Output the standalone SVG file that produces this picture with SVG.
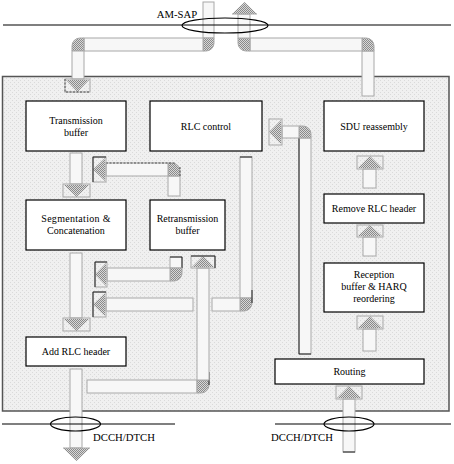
<svg xmlns="http://www.w3.org/2000/svg" width="454" height="464" viewBox="0 0 454 464">
<defs>
<pattern id="hatch" patternUnits="userSpaceOnUse" width="2" height="2">
<rect width="2" height="2" fill="#d8d8d8"/>
<rect width="1" height="1" fill="#8a8a8a"/>
<rect x="1" y="1" width="1" height="1" fill="#8a8a8a"/>
</pattern>
<pattern id="bg" patternUnits="userSpaceOnUse" width="4" height="4">
<rect width="4" height="4" fill="#f0f0f0"/>
<rect width="1" height="1" fill="#dadada"/>
<rect x="2" y="2" width="1" height="1" fill="#dadada"/>
</pattern>
</defs>
<style>
.frame{fill:url(#bg);stroke:#555;stroke-width:1.5}
.node rect{fill:#fff;stroke:#000;stroke-width:1.2}
.node text,.lbl{font-family:"Liberation Serif","Times New Roman",serif;font-size:10px;fill:#000;text-anchor:middle}
.lbl{font-size:10.7px}
.shaft{fill:#f7f7f7;stroke:#a8a8a8;stroke-width:1}
.hbox{fill:none;stroke:#a8a8a8;stroke-width:1}
.head{fill:url(#hatch);stroke:none}
.corner{fill:url(#hatch);stroke:#a8a8a8;stroke-width:1}
.dk{fill:none;stroke:#222;stroke-width:1}
.dash{fill:none;stroke:#333;stroke-width:0.8;stroke-dasharray:2 1.5}
.bus{fill:none;stroke:#000;stroke-width:1.2}
</style>
<rect class="frame" x="2.5" y="76.5" width="446.5" height="334.5"/>

<g id="connectors">
<!-- A: AM-SAP down to Transmission buffer -->
<rect class="shaft" x="203" y="2" width="11" height="36"/>
<path class="corner" d="M203 38 H214 V43 A8 8 0 0 1 206 51 H203 Z"/>
<rect class="shaft" x="84" y="38" width="119" height="13"/>
<path class="corner" d="M84 38 V51 H72 V46 A8 8 0 0 1 80 38 Z"/>
<rect class="shaft" x="72" y="51" width="12" height="28"/>
<rect class="hbox" x="65" y="79" width="25" height="13"/>
<polygon class="head" points="66,80 89,80 77.5,92"/>
<path class="dash" d="M65 79 V92 H90"/>

<!-- B: SDU reassembly up to AM-SAP -->
<rect class="shaft" x="362" y="51" width="12" height="45"/>
<path class="corner" d="M362 38 H366 A8 8 0 0 1 374 46 V51 H362 Z"/>
<rect class="shaft" x="250" y="38" width="112" height="13"/>
<path class="corner" d="M238 38 H250 V51 H246 A8 8 0 0 1 238 43 Z"/>
<rect class="shaft" x="238" y="14" width="12" height="24"/>
<polygon class="head" points="232,14 257,14 244.5,2"/>
<path class="hbox" d="M232 14 H257"/>

<!-- C: Transmission buffer to Segmentation -->
<rect class="shaft" x="70" y="153" width="12" height="31"/>
<rect class="hbox" x="63" y="184" width="27" height="13"/>
<polygon class="head" points="64,185 89,185 76.5,197"/>

<!-- D: Retransmission buffer up and left -->
<rect class="shaft" x="168" y="176" width="12" height="20"/>
<path class="corner" d="M168 163 H172 A8 8 0 0 1 180 171 V176 H168 Z"/>
<rect class="shaft" x="106" y="163" width="62" height="13"/>
<path class="dash" d="M106 163 H176 M180 167 V176"/>
<rect class="hbox" x="93" y="157" width="13" height="25"/>
<polygon class="head" points="105,158 105,181 93,169.5"/>
<path class="dk" d="M93 182 V157 H106"/>

<!-- E: Segmentation to Add RLC header -->
<rect class="shaft" x="70" y="253" width="12" height="65"/>
<rect class="hbox" x="63" y="318" width="27" height="13"/>
<polygon class="head" points="64,319 89,319 76.5,331"/>

<!-- F: Retransmission buffer down and left -->
<rect class="shaft" x="170" y="257" width="12" height="11"/>
<path class="dk" d="M170 257 H182 V268"/>
<path class="corner" d="M170 268 H182 V273 A8 8 0 0 1 174 281 H170 Z"/>
<rect class="shaft" x="107" y="268" width="63" height="13"/>
<rect class="hbox" x="95" y="262" width="12" height="25"/>
<polygon class="head" points="106,263 106,286 95,274.5"/>
<path class="dk" d="M95 287 V262 H107"/>

<!-- G: RLC control down and left -->
<rect class="shaft" x="240" y="157" width="12" height="141"/>
<path class="dk" d="M240 157 H252"/>
<path class="corner" d="M240 298 H252 V303 A8 8 0 0 1 244 311 H240 Z"/>
<path class="dk" d="M252 290 V303"/>
<rect class="shaft" x="212" y="298" width="28" height="13"/>
<rect class="shaft" x="106" y="298" width="87" height="13"/>
<rect class="hbox" x="93" y="292" width="13" height="25"/>
<polygon class="head" points="105,293 105,316 93,304.5"/>
<path class="dk" d="M93 317 V292 H106"/>

<!-- H: after Add RLC header right and up to Retransmission buffer -->
<rect class="shaft" x="87" y="380" width="110" height="13"/>
<path class="corner" d="M197 380 H209 V385 A8 8 0 0 1 201 393 H197 Z"/>
<path class="dk" d="M209 372 V385"/>
<rect class="shaft" x="197" y="268" width="12" height="112"/>
<rect class="hbox" x="191" y="256" width="24" height="12"/>
<polygon class="head" points="192,267 214,267 203,256"/>
<path class="dk" d="M191 256 H215 V268"/>

<!-- I: Routing up and left to RLC control -->
<rect class="shaft" x="299" y="138" width="12" height="216"/>
<path class="dk" d="M299 138 V354 H311"/>
<path class="corner" d="M299 126 H303 A8 8 0 0 1 311 134 V138 H299 Z"/>
<rect class="shaft" x="282" y="126" width="17" height="12"/>
<rect class="hbox" x="269" y="119" width="13" height="26"/>
<polygon class="head" points="281,120 281,144 269,132"/>

<!-- J: Routing to Reception buffer -->
<rect class="shaft" x="363" y="329" width="13" height="22"/>
<rect class="hbox" x="357" y="316" width="26" height="13"/>
<polygon class="head" points="358,328 382,328 370,316"/>

<!-- K: Reception buffer to Remove RLC header -->
<rect class="shaft" x="363" y="237" width="13" height="19"/>
<rect class="hbox" x="357" y="225" width="26" height="12"/>
<polygon class="head" points="358,236 382,236 370,225"/>

<!-- L: Remove RLC header to SDU reassembly -->
<rect class="shaft" x="363" y="169" width="13" height="19"/>
<rect class="hbox" x="357" y="156" width="26" height="13"/>
<polygon class="head" points="358,168 382,168 370,156"/>

<!-- M: DCCH/DTCH up to Routing -->
<rect class="shaft" x="343" y="399" width="12" height="53"/>
<path class="dk" d="M343 452 H355"/>
<rect class="hbox" x="336" y="386" width="26" height="13"/>
<polygon class="head" points="337,398 361,398 349,386"/>

<!-- N: Add RLC header down to DCCH/DTCH -->
<rect class="shaft" x="70" y="369" width="12" height="79"/>
<polygon class="head" points="63,448 90,448 76.5,461"/>
<path class="hbox" d="M63 448 H90"/>
</g>

<g id="transmission-buffer" class="node">
<rect x="26" y="101" width="100" height="50"/>
<text x="76" y="124">Transmission</text>
<text x="76" y="136">buffer</text>
</g>
<g id="rlc-control" class="node">
<rect x="150" y="101" width="112" height="50"/>
<text x="206" y="130">RLC control</text>
</g>
<g id="sdu-reassembly" class="node">
<rect x="324" y="101" width="100" height="50"/>
<text x="374" y="130">SDU reassembly</text>
</g>
<g id="segmentation" class="node">
<rect x="26" y="200" width="100" height="50"/>
<text x="76" y="222" letter-spacing="0.3">Segmentation  &amp;</text>
<text x="76" y="234">Concatenation</text>
</g>
<g id="retransmission-buffer" class="node">
<rect x="150" y="200" width="75" height="50"/>
<text x="187.5" y="222">Retransmission</text>
<text x="187.5" y="234">buffer</text>
</g>
<g id="remove-rlc-header" class="node">
<rect x="324" y="194" width="100" height="29"/>
<text x="374" y="212">Remove RLC header</text>
</g>
<g id="reception-buffer" class="node">
<rect x="324" y="263" width="100" height="49"/>
<text x="374" y="278">Reception</text>
<text x="374" y="290">buffer &amp; HARQ</text>
<text x="374" y="302">reordering</text>
</g>
<g id="add-rlc-header" class="node">
<rect x="26" y="337" width="100" height="29"/>
<text x="76" y="355">Add RLC header</text>
</g>
<g id="routing" class="node">
<rect x="275" y="359" width="149" height="25"/>
<text x="349.5" y="375">Routing</text>
</g>

<g id="am-sap">
<line class="bus" x1="3" y1="25" x2="451" y2="25"/>
<ellipse class="bus" cx="225" cy="25.5" rx="43" ry="7.5"/>
<text class="lbl" x="177" y="18">AM-SAP</text>
</g>
<g id="dcch-dtch-tx">
<line class="bus" x1="2" y1="424" x2="175" y2="424"/>
<ellipse class="bus" cx="75.5" cy="424" rx="25" ry="7"/>
<text class="lbl" x="124" y="441">DCCH/DTCH</text>
</g>
<g id="dcch-dtch-rx">
<line class="bus" x1="275" y1="424" x2="451" y2="424"/>
<ellipse class="bus" cx="349" cy="424" rx="25" ry="7"/>
<text class="lbl" x="302" y="441">DCCH/DTCH</text>
</g>
</svg>
